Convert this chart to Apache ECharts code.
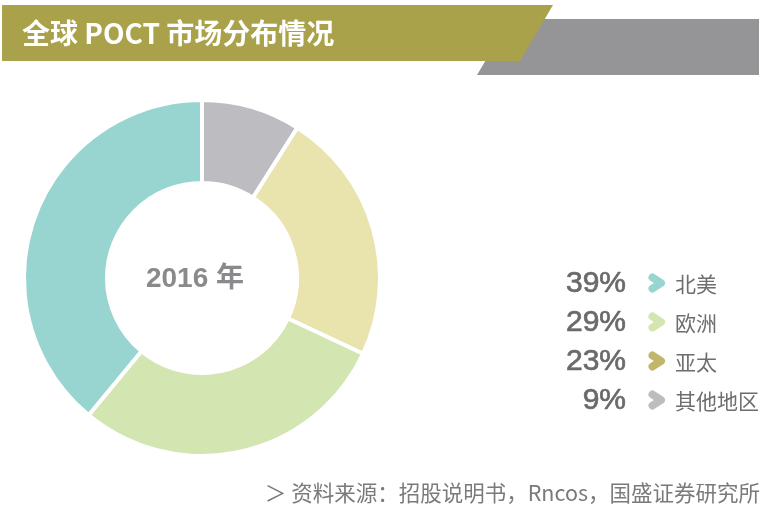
<!DOCTYPE html>
<html><head><meta charset="utf-8">
<script src="https://cdn.jsdelivr.net/npm/echarts@6/dist/echarts.min.js"></script>
<style>html,body{margin:0;padding:0;background:#fff}#c{width:765px;height:521px}</style>
</head><body><div id="c"></div>
<script>
const categories = ['其他地区', '亚太', '欧洲', '北美'];
const values = [9, 23, 29, 39];
const sliceColors = ['#bdbdc1', '#e9e3ae', '#d3e5b1', '#98d5d1'];
const legendOrder = ['北美', '欧洲', '亚太', '其他地区'];
const legendPct = ['39%', '29%', '23%', '9%'];
const markerColors = ['#98d5d1', '#d3e5b1', '#c2b66c', '#bdbdc1'];
const titleText = '全球 POCT 市场分布情况';
const centerText = '2016 年';
const sourceText = '＞ 资料来源：招股说明书，Rncos，国盛证券研究所';

const FONT = "'Liberation Sans','Noto Sans CJK SC',sans-serif";
const chart = echarts.init(document.getElementById('c'), null, {renderer: 'canvas'});

const graphics = [
  {type: 'polygon', shape: {points: [[477, 75], [510, 19], [759, 19], [759, 75]]}, style: {fill: '#959598'}, z: 1},
  {type: 'polygon', shape: {points: [[2, 5], [553, 5], [520, 61], [2, 61]]}, style: {fill: '#aaa24a'}, z: 2},
  {type: 'text', x: 22, y: 33, style: {text: titleText, fill: '#fff', font: "bold 28px 'Noto Sans CJK SC',sans-serif", textVerticalAlign: 'middle'}, z: 3},
  {type: 'text', x: 195, y: 279, style: {text: centerText, fill: '#8a8a8c', font: "bold 28px " + FONT, textAlign: 'center', textVerticalAlign: 'middle'}, z: 3},
  {type: 'text', x: 760, y: 493, style: {text: sourceText, fill: '#7a7a7a', font: "21.5px 'Noto Sans CJK SC',sans-serif", textAlign: 'right', textVerticalAlign: 'middle'}, z: 3}
];
const rowY = [284, 323, 362, 401];
legendOrder.forEach((name, i) => {
  const y = rowY[i];
  graphics.push({type: 'text', x: 626, y: y, style: {text: legendPct[i], fill: '#6a6a6c', stroke: '#6a6a6c', lineWidth: 0.7, font: "30px 'Liberation Sans',sans-serif", textAlign: 'right', textVerticalAlign: 'middle'}, z: 3});
  graphics.push({type: 'polyline', x: 657, y: y - 1, shape: {points: [[-4.5, -5.5], [4, 0], [-4.5, 5.5]]}, style: {stroke: markerColors[i], lineWidth: 8, lineCap: 'round', lineJoin: 'round', fill: null}, z: 3});
  graphics.push({type: 'text', x: 675, y: y, style: {text: name, fill: '#6e6e70', font: "21px 'Noto Sans CJK SC',sans-serif", textVerticalAlign: 'middle'}, z: 3});
});

chart.setOption({
  animation: false,
  graphic: graphics,
  series: [{
    type: 'pie',
    center: [202, 278],
    radius: [95, 178],
    startAngle: 90,
    clockwise: true,
    label: {show: false},
    labelLine: {show: false},
    silent: true,
    itemStyle: {borderColor: '#fff', borderWidth: 4},
    data: categories.map((c, i) => ({name: c, value: values[i], itemStyle: {color: sliceColors[i]}}))
  }]
});
</script></body></html>
